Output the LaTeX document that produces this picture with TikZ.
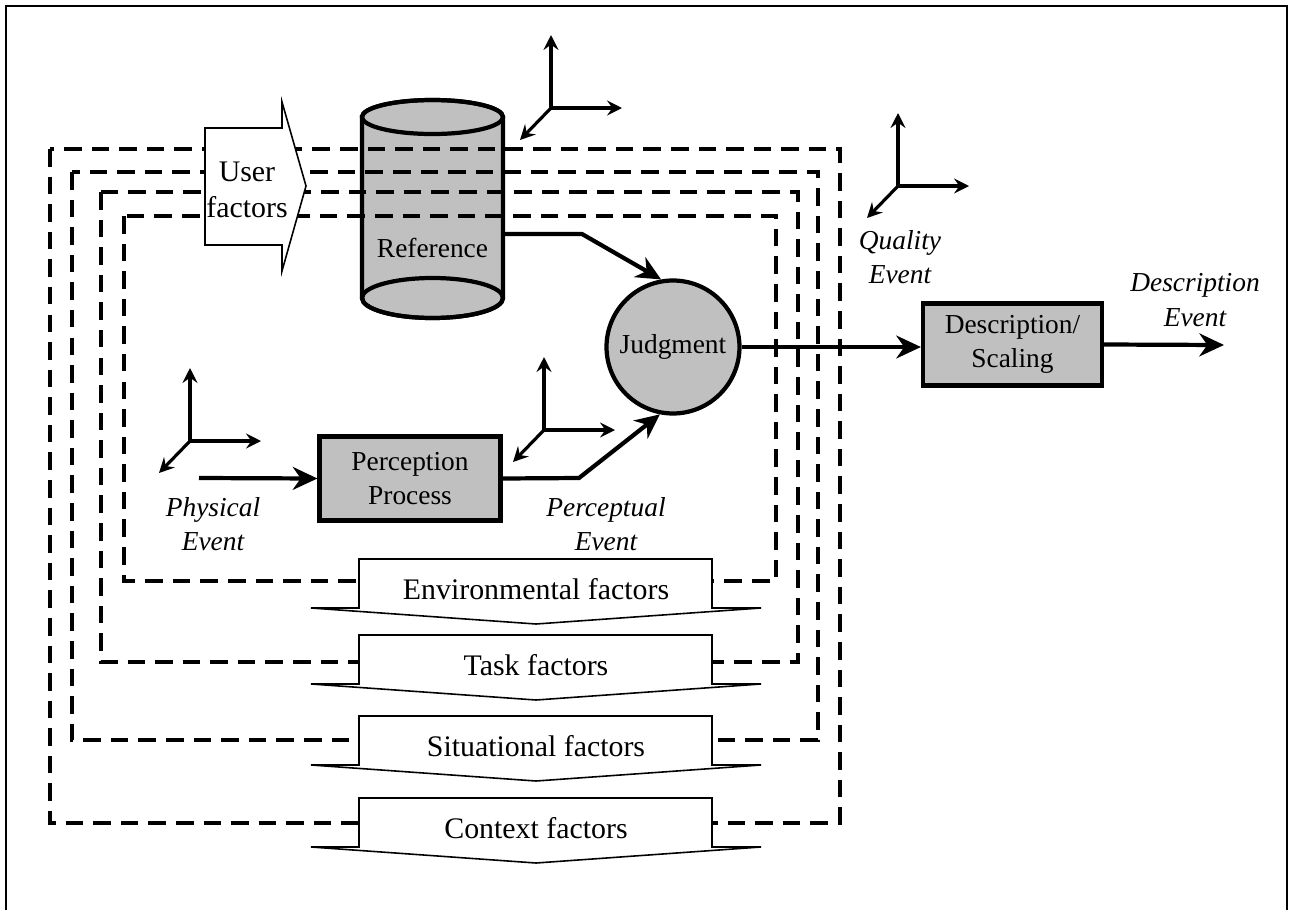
\documentclass[tikz,border=0pt]{standalone}
\usepackage{fontspec}
\setmainfont{Liberation Serif}
\usepackage{tikz}
\usetikzlibrary{arrows.meta}
\definecolor{boxgray}{RGB}{192,192,192}
\tikzset{proc/.style={draw, fill=boxgray, line width=2.4pt, align=center, inner sep=2pt},
  conn/.style={line width=2.4pt, -{Stealth[length=14pt, width=13pt, inset=4.5pt]}},
  axis/.style={line width=1.8pt, -{Stealth[length=8.5pt, width=8.5pt, inset=3pt]}},
  zone/.style={line width=2.5pt, dash pattern=on 10pt off 5.7pt},
  factor/.style={draw, fill=white, line width=0.9pt},
  factorlab/.style={font=\fontsize{17}{20.5}\selectfont, align=center},
  evt/.style={font=\fontsize{15.6}{19.5}\selectfont\itshape, align=center}}

\begin{document}
\begin{tikzpicture}[x=0.02cm,y=-0.02cm,
    every node/.style={font=\fontsize{15.6}{19.5}\selectfont}]
  \useasboundingbox (0,0) rectangle (1289,910);
  \draw[line width=1.2pt] (6,915) -- (6,6) -- (1287,6) -- (1287,915);

  % reference store
  \path[draw, fill=boxgray, line width=2.4pt] (362,117) -- (362,298)
    arc[start angle=180, end angle=0, x radius=70.5, y radius=20] -- (503,117)
    arc[start angle=0, end angle=-180, x radius=70.5, y radius=17] -- cycle;
  \draw[line width=2.4pt] (432.5,117) ellipse [x radius=70.5, y radius=17];
  \draw[line width=2.4pt] (432.5,298) ellipse [x radius=70.5, y radius=20];
  \node (ref) at (432.5,248) {Reference};
  \coordinate (refout) at (503,234);

  % nested factor zones
  \foreach \l/\t/\r/\b in {
    50/149/840/823,
    72/172/818/740,
    101/192/798/662,
    124/216/776/581%
  } {
    \draw[zone] (\l,\t) rectangle (\r,\b);
  }

  % user factors
  \draw[factor] (205,128) -- (282,128) -- (282,102) -- (306,186) -- (282,271)
    -- (282,245) -- (205,245) -- cycle;
  \node[factorlab] (user) at (247,190) {User\\factors};

  % factor arrows
  \foreach \t/\lab/\name in {
    559/Environmental factors/env,
    635/Task factors/task,
    716/Situational factors/sit,
    798/Context factors/ctx%
  } {
    \draw[factor] (359,\t) -- (712,\t) -- (712,\t+49) -- (761,\t+49)
      -- (536,\t+65) -- (311,\t+49) -- (359,\t+49) -- cycle;
    \node[factorlab] (\name) at (536,\t+30) {\lab};
  }

  % process chain
  \node[proc, minimum width=3.62cm, minimum height=1.68cm] (perc) at (410,478.5) {Perception\\Process};
  \node[proc, circle, minimum size=2.66cm, inner sep=0pt] (jud) at (673,347) {Judgment};
  \node[proc, minimum width=3.58cm, minimum height=1.64cm] (desc) at (1012.5,344.5) {Description/\\Scaling};
  \coordinate (physin) at (199,478);
  \coordinate (descout) at (1224,345);

  \node[evt] (phys) at (213,524) {Physical\\Event};
  \node[evt] (percev) at (606,524) {Perceptual\\Event};
  \node[evt] (qual) at (900,257) {Quality\\Event};
  \node[evt] (descev) at (1195,300) {Description\\Event};

  \draw[conn] (physin) -- (perc.west);
  \draw[conn] (perc.east) -- (579,478) -- (jud.259);
  \draw[conn] (refout) -- (582,234) -- (jud.100);
  \draw[conn] (jud.east) -- (jud.east -| desc.west);
  \draw[conn] (desc.east) -- (descout);

  % event spaces
  \foreach \x/\y/\name in {
    551/108/tref,
    898/186/tqual,
    190/441/tphys,
    544/430/tperc%
  } {
    \coordinate (\name) at (\x,\y);
    \draw[axis] (\name) -- ++(0,-73);
    \draw[axis] (\name) -- ++(71,0);
    \draw[axis] (\name) -- ++(-31,32);
  }
\end{tikzpicture}
\end{document}
